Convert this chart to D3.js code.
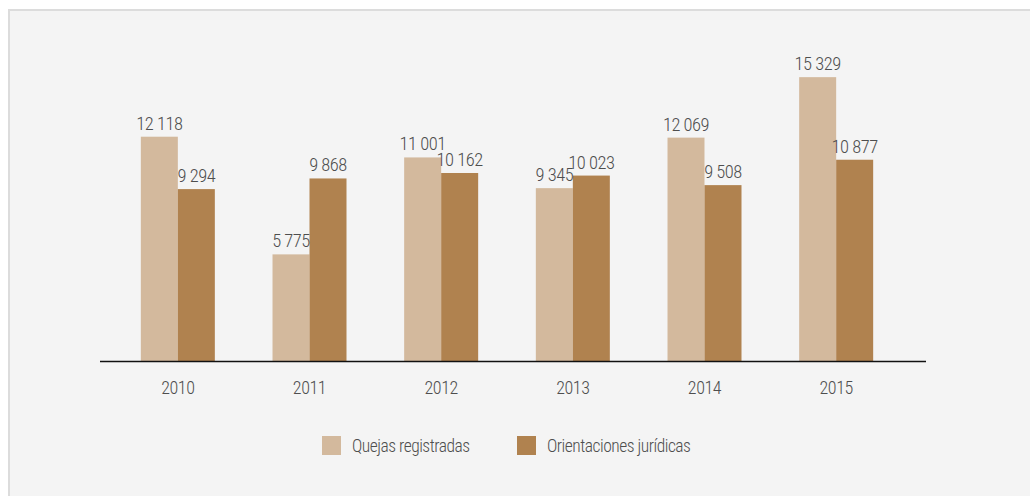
<!DOCTYPE html>
<html>
<head>
<meta charset="utf-8">
<script src="https://cdn.jsdelivr.net/npm/d3@7"></script>
<style>
  html, body { margin: 0; padding: 0; background: #ffffff; }
  svg { display: block; }
  text { font-family: "Liberation Sans Narrow", "Roboto Condensed", "Liberation Sans", sans-serif; fill: #4e4e4e; font-weight: 300; }
</style>
</head>
<body>
<svg id="chart" width="1030" height="496"></svg>
<script>
const categories = ["2010", "2011", "2012", "2013", "2014", "2015"];
const seriesNames = ["Quejas registradas", "Orientaciones jurídicas"];
const quejas = [12118, 5775, 11001, 9345, 12069, 15329];
const orientaciones = [9294, 9868, 10162, 10023, 9508, 10877];
const colors = ["#d3b99d", "#b0824f"];

const fmt = v => d3.format(",")(v).replace(/,/g, " ");

const svg = d3.select("#chart");
// panel
svg.append("rect").attr("x", 9).attr("y", 10).attr("width", 1040).attr("height", 500)
  .attr("fill", "#f4f4f4").attr("stroke", "#dcdcdc").attr("stroke-width", 2);

const baseY = 361.5;
const y = d3.scaleLinear().domain([0, 16000]).range([baseY, baseY - 296.8]);
const x0 = d3.scaleBand().domain(categories).range([112, 902]).paddingInner(0.438).paddingOuter(0.219);
const x1 = d3.scaleBand().domain([0, 1]).range([0, x0.bandwidth()]);

const data = categories.map((c, i) => ({ cat: c, vals: [quejas[i], orientaciones[i]] }));

const g = svg.append("g");
const groups = g.selectAll("g.grp").data(data).join("g")
  .attr("transform", d => `translate(${x0(d.cat)},0)`);

groups.selectAll("rect").data(d => d.vals.map((v, k) => ({ v, k }))).join("rect")
  .attr("x", d => x1(d.k))
  .attr("width", x1.bandwidth())
  .attr("y", d => y(d.v))
  .attr("height", d => baseY - y(d.v))
  .attr("fill", d => colors[d.k]);

groups.selectAll("text.val").data(d => d.vals.map((v, k) => ({ v, k }))).join("text")
  .attr("class", "val")
  .attr("x", d => x1(d.k) + x1.bandwidth() / 2)
  .attr("y", d => y(d.v) - 7)
  .attr("text-anchor", "middle")
  .attr("font-size", 18.5)
  .attr("letter-spacing", -0.5)
  .text(d => fmt(d.v));

// axis
const axis = d3.axisBottom(x0).tickSize(0).tickPadding(0);
const ax = svg.append("g").attr("transform", `translate(0,${baseY})`).call(axis);
ax.select(".domain").remove();
ax.selectAll("text").attr("dy", null).attr("y", 32).attr("font-size", 18)
  .attr("letter-spacing", -0.4)
  .style("font-family", '"Liberation Sans Narrow", "Roboto Condensed", sans-serif')
  .style("font-weight", 300).attr("fill", "#4e4e4e");
svg.append("line").attr("x1", 100).attr("x2", 926).attr("y1", baseY).attr("y2", baseY)
  .attr("stroke", "#111").attr("stroke-width", 1.5);

// legend
const legendX = [322, 517];
const leg = svg.append("g");
seriesNames.forEach((n, i) => {
  leg.append("rect").attr("x", legendX[i]).attr("y", 436).attr("width", 19).attr("height", 19).attr("fill", colors[i]);
  leg.append("text").attr("x", legendX[i] + 30).attr("y", 452).attr("font-size", 17.5)
    .attr("letter-spacing", -0.5).text(n);
});
</script>
</body>
</html>
